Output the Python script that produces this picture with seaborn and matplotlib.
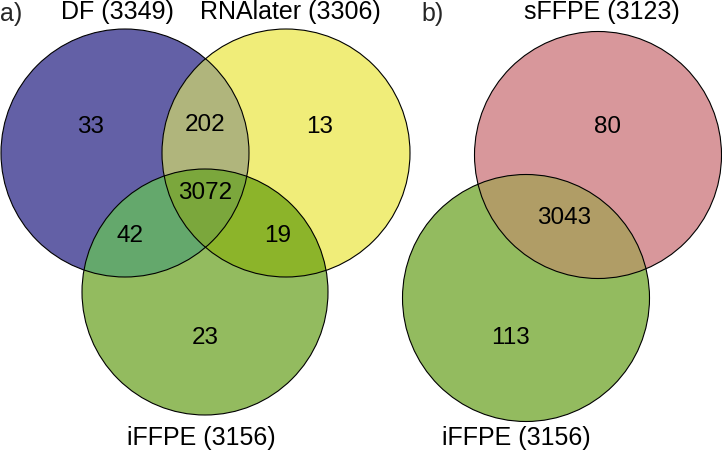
import numpy as np
import seaborn as sns
import matplotlib.pyplot as plt
from matplotlib.patches import Circle, Polygon

# panel a: three-way overlap
sets_a = ['DF', 'RNAlater', 'iFFPE']
totals_a = [3349, 3306, 3156]
# region counts: only DF, only RNAlater, only iFFPE, DF&RNA, DF&iFFPE, RNA&iFFPE, all three
regions_a = {'100': 33, '010': 13, '001': 23, '110': 202, '101': 42, '011': 19, '111': 3072}

# panel b: two-way overlap
sets_b = ['sFFPE', 'iFFPE']
totals_b = [3123, 3156]
regions_b = {'10': 80, '01': 113, '11': 3043}

# layout in pixel units (x, y, r)
circ_a = [(125, 154, 124), (286, 154, 124), (205, 293, 123)]
circ_b = [(598, 156, 123.5), (526, 299, 123.5)]

col_a = {'100': '#6360a6', '010': '#f0ed79', '001': '#93bb5f',
         '110': '#b0b57c', '101': '#64a86c', '011': '#8cb42a', '111': '#7ba73c'}
col_b = {'10': '#d8979b', '01': '#93bb5f', '11': '#b09d66'}

pos_a = {'100': (91, 127), '110': (205, 125), '010': (320, 127), '111': (205, 193),
         '101': (130, 236), '011': (278, 236), '001': (205, 338)}
pos_b = {'10': (608, 127), '11': (564, 218), '01': (511, 338)}

sns.set_theme(style='white')
plt.rcParams['font.family'] = ['Liberation Sans', 'DejaVu Sans']


def intersection(circles):
    # intersection of circles is convex -> sample borders, keep inside points, sort by angle
    pts = []
    t = np.linspace(0, 2 * np.pi, 3000, endpoint=False)
    for i, (cx, cy, r) in enumerate(circles):
        p = np.column_stack([cx + r * np.cos(t), cy + r * np.sin(t)])
        ok = np.ones(len(p), bool)
        for j, (ox, oy, orr) in enumerate(circles):
            if j != i:
                ok &= np.hypot(p[:, 0] - ox, p[:, 1] - oy) <= orr + 1e-6
        pts.append(p[ok])
    pts = np.vstack(pts)
    c = pts.mean(axis=0)
    order = np.argsort(np.arctan2(pts[:, 1] - c[1], pts[:, 0] - c[0]))
    return pts[order]


def draw_venn(ax, circles, colors, counts, positions, names, totals, label_pos):
    n = len(circles)
    # single sets
    for i, (cx, cy, r) in enumerate(circles):
        key = ''.join('1' if k == i else '0' for k in range(n))
        ax.add_patch(Circle((cx, cy), r, facecolor=colors[key], edgecolor='none'))
    # overlaps, pairs first then triple
    keys = sorted([k for k in counts if k.count('1') > 1], key=lambda k: k.count('1'))
    for key in keys:
        sel = [circles[i] for i in range(n) if key[i] == '1']
        ax.add_patch(Polygon(intersection(sel), closed=True, facecolor=colors[key], edgecolor='none'))
    for cx, cy, r in circles:
        ax.add_patch(Circle((cx, cy), r, facecolor='none', edgecolor='black', lw=0.8))
    for key, v in counts.items():
        x, y = positions[key]
        ax.text(x, y, str(v), ha='center', va='center', fontsize=17.5, color='black')
    for name, tot, (x, y) in zip(names, totals, label_pos):
        ax.text(x, y, f'{name} ({tot})', ha='center', va='center', fontsize=18, color='black')


fig = plt.figure(figsize=(7.22, 4.52), dpi=100)
ax = fig.add_axes([0, 0, 1, 1])
ax.set_xlim(0, 722)
ax.set_ylim(452, 0)
ax.set_aspect('equal')
ax.axis('off')

draw_venn(ax, circ_a, col_a, regions_a, pos_a, sets_a, totals_a,
          [(117, 12), (290, 12), (201, 438)])
draw_venn(ax, circ_b, col_b, regions_b, pos_b, sets_b, totals_b,
          [(602, 12), (516, 438)])

ax.text(0, 14, 'a)', ha='left', va='center', fontsize=18)
ax.text(421, 14, 'b)', ha='left', va='center', fontsize=18)

plt.savefig('out.png', dpi=100)
